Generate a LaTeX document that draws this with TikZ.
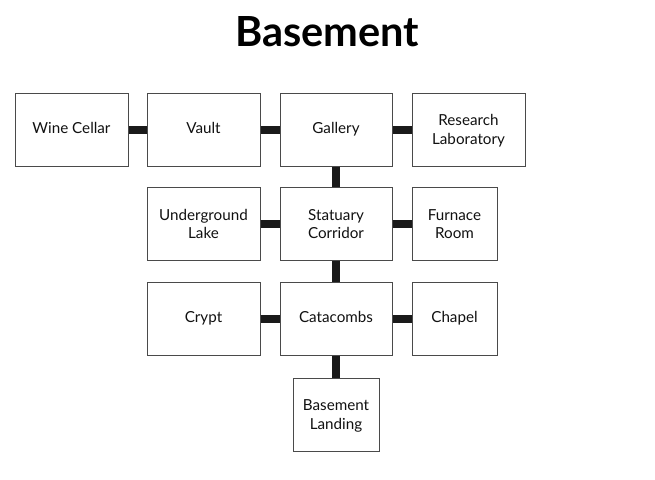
\documentclass[tikz,border=0pt]{standalone}
\usepackage{fontspec}
\setmainfont{Lato}
\definecolor{boxline}{HTML}{4A4A4A}
\definecolor{conn}{HTML}{1A1A1A}
\definecolor{txt}{HTML}{111111}
\begin{document}
\begin{tikzpicture}[x=1pt,y=-1pt,
  room/.style={draw=boxline, line width=1pt, fill=white, rectangle, inner sep=0pt,
    minimum width=113pt, minimum height=73pt, align=center, text=txt,
    font=\fontsize{15.2}{18.3}\selectfont, text depth=-2pt},
  single/.style={room, text height=0.72em, text depth=-2pt},
  narrow/.style={minimum width=85pt},
  link/.style={draw=conn, line width=8pt, line cap=butt}]
\useasboundingbox (0,0) rectangle (655,479);
\node[anchor=base, font=\fontsize{41.5}{46}\bfseries\selectfont, text=black] (title) at (327,46.5) {Basement};
\node[single] (wine) at (71.5,129.5) {Wine Cellar};
\node[single] (vault) at (203.5,129.5) {Vault};
\node[single, minimum width=112pt] (gallery) at (336,129.5) {Gallery};
\node[room] (lab) at (468.5,129.5) {Research\\Laboratory};
\node[room] (lake) at (203.5,224) {Underground\\Lake};
\node[room, minimum width=112pt] (statuary) at (336,224) {Statuary\\Corridor};
\node[room, narrow] (furnace) at (454.5,224) {Furnace\\Room};
\node[single] (crypt) at (203.5,318.5) {Crypt};
\node[single, minimum width=112pt] (catacombs) at (336,318.5) {Catacombs};
\node[single, narrow] (chapel) at (454.5,318.5) {Chapel};
\node[room, minimum width=86pt] (landing) at (336,414.5) {Basement\\Landing};
\draw[link] (wine.east) -- (vault.west);
\draw[link] (vault.east) -- (gallery.west);
\draw[link] (gallery.east) -- (lab.west);
\draw[link] (gallery.south) -- (statuary.north);
\draw[link] (lake.east) -- (statuary.west);
\draw[link] (statuary.east) -- (furnace.west);
\draw[link] (statuary.south) -- (catacombs.north);
\draw[link] (crypt.east) -- (catacombs.west);
\draw[link] (catacombs.east) -- (chapel.west);
\draw[link] (catacombs.south) -- (landing.north);
\end{tikzpicture}
\end{document}
